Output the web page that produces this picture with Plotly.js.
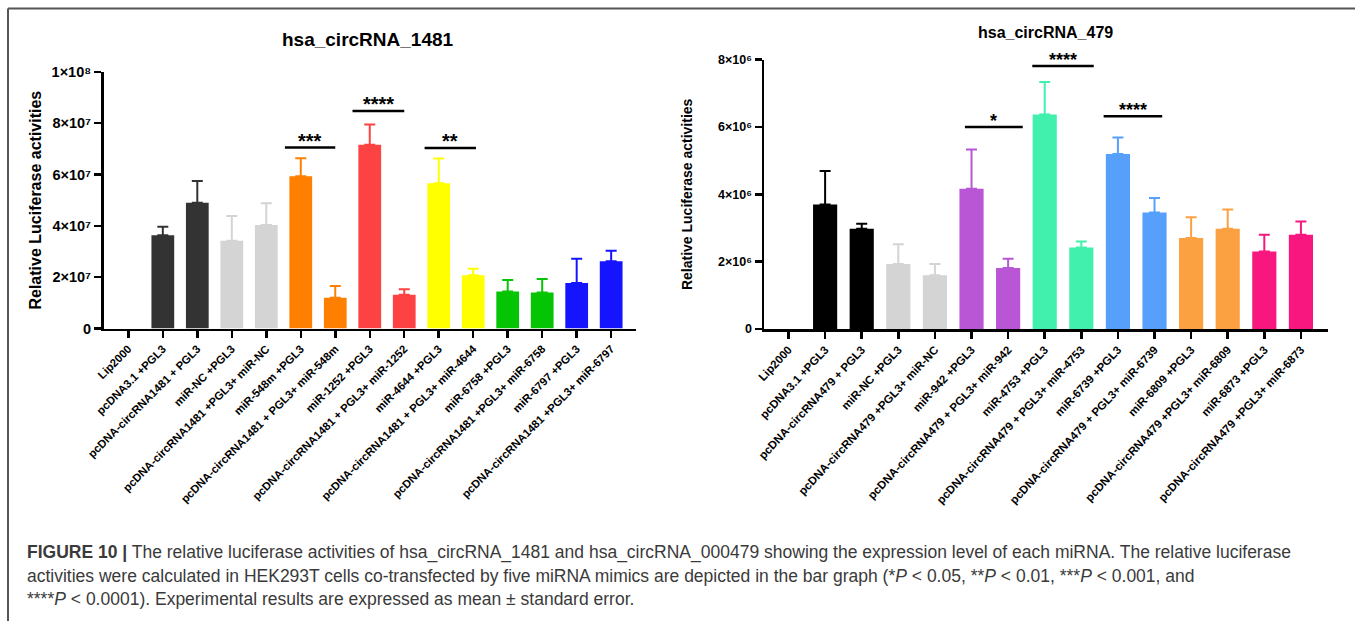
<!DOCTYPE html>
<html>
<head>
<meta charset="utf-8">
<script src="https://cdn.plot.ly/plotly-3.0.1.min.js"></script>
<style>html,body{margin:0;padding:0;background:#fff;}#chart{width:1355px;height:621px;}</style>
</head>
<body>
<div id="chart"></div>
<script>
// ---------------- DATA ----------------
const catsA = ["Lip2000", "pcDNA3.1 +PGL3", "pcDNA-circRNA1481 + PGL3", "miR-NC +PGL3",
  "pcDNA-circRNA1481 +PGL3+ miR-NC", "miR-548m +PGL3", "pcDNA-circRNA1481 + PGL3+ miR-548m",
  "miR-1252 +PGL3", "pcDNA-circRNA1481 + PGL3+ miR-1252", "miR-4644 +PGL3",
  "pcDNA-circRNA1481 + PGL3+ miR-4644", "miR-6758 +PGL3", "pcDNA-circRNA1481 +PGL3+ miR-6758",
  "miR-6797 +PGL3", "pcDNA-circRNA1481 +PGL3+ miR-6797"];
const meanA = [0, 3.63e7, 4.90e7, 3.42e7, 4.03e7, 5.93e7, 1.20e7, 7.16e7, 1.31e7, 5.66e7, 2.07e7, 1.44e7, 1.40e7, 1.77e7, 2.62e7];
const semA  = [null, 0.33e7, 0.85e7, 0.96e7, 0.85e7, 0.70e7, 0.46e7, 0.79e7, 0.22e7, 0.96e7, 0.26e7, 0.45e7, 0.53e7, 0.95e7, 0.41e7];
const colorsA = ["#333333", "#333333", "#333333", "#d4d4d4", "#d4d4d4", "#ff8000", "#ff8000",
  "#fc4242", "#fc4242", "#ffff00", "#ffff00", "#04c404", "#04c404", "#1414ff", "#1414ff"];
const yTickValsA = [0, 2e7, 4e7, 6e7, 8e7, 1e8];
const yTickTextA = ["0", "2×10⁷", "4×10⁷", "6×10⁷", "8×10⁷", "1×10⁸"];
const sigA_x0 = [4.54, 6.50, 8.59];
const sigA_x1 = [6.00, 8.00, 10.08];
const sigA_y  = [7.05e7, 8.47e7, 7.03e7];
const sigA_label = ["***", "****", "**"];

const catsB = ["Lip2000", "pcDNA3.1 +PGL3", "pcDNA-circRNA479 + PGL3", "miR-NC +PGL3",
  "pcDNA-circRNA479 +PGL3+ miR-NC", "miR-942 +PGL3", "pcDNA-circRNA479 + PGL3+ miR-942",
  "miR-4753 +PGL3", "pcDNA-circRNA479 + PGL3+ miR-4753", "miR-6739 +PGL3",
  "pcDNA-circRNA479 + PGL3+ miR-6739", "miR-6809 +PGL3", "pcDNA-circRNA479 +PGL3+ miR-6809",
  "miR-6873 +PGL3", "pcDNA-circRNA479 +PGL3+ miR-6873"];
const meanB = [0, 3.70e6, 2.98e6, 1.93e6, 1.60e6, 4.17e6, 1.81e6, 6.37e6, 2.42e6, 5.20e6, 3.46e6, 2.70e6, 2.98e6, 2.30e6, 2.80e6];
const semB  = [null, 0.99e6, 0.15e6, 0.59e6, 0.33e6, 1.16e6, 0.28e6, 0.97e6, 0.18e6, 0.49e6, 0.43e6, 0.62e6, 0.57e6, 0.50e6, 0.39e6];
const colorsB = ["#000000", "#000000", "#000000", "#d4d4d4", "#d4d4d4", "#b856d6", "#b856d6",
  "#42f0ae", "#42f0ae", "#56a0fc", "#56a0fc", "#fca142", "#fca142", "#f8177f", "#f8177f"];
const yTickValsB = [0, 2e6, 4e6, 6e6, 8e6];
const yTickTextB = ["0", "2×10⁶", "4×10⁶", "6×10⁶", "8×10⁶"];
const sigB_x0 = [4.82, 6.66, 8.61];
const sigB_x1 = [6.40, 8.34, 10.21];
const sigB_y  = [6.00e6, 7.81e6, 6.32e6];
const sigB_label = ["*", "****", "****"];

const titleA = "hsa_circRNA_1481";
const titleB = "hsa_circRNA_479";
const yTitle = "Relative Luciferase activities";
const captionLines = [
  "<b>FIGURE 10 |</b> The relative luciferase activities of hsa_circRNA_1481 and hsa_circRNA_000479 showing the expression level of each miRNA. The relative luciferase",
  "activities were calculated in HEK293T cells co-transfected by five miRNA mimics are depicted in the bar graph (*<i>P</i> &lt; 0.05, **<i>P</i> &lt; 0.01, ***<i>P</i> &lt; 0.001, and",
  "****<i>P</i> &lt; 0.0001). Experimental results are expressed as mean ± standard error."
];

// ---------------- BUILD ----------------
const W = 1355, H = 621;
const FONT = "Liberation Sans, Arial, sans-serif";
const traces = [];
function addBars(cats, means, sems, colors, xa, ya) {
  for (let i = 0; i < cats.length; i++) {
    traces.push({
      type: "bar", x: [cats[i]], y: [means[i]], xaxis: xa, yaxis: ya,
      width: 0.66, marker: {color: colors[i], line: {width: 0}},
      error_y: {type: "data", symmetric: false, array: [sems[i]], arrayminus: [0],
        visible: sems[i] !== null, color: colors[i], thickness: 2, width: 5.5},
      hoverinfo: "x+y", showlegend: false
    });
  }
}
addBars(catsA, meanA, semA, colorsA, "x", "y");
addBars(catsB, meanB, semB, colorsB, "x2", "y2");

const shapes = [];
const annotations = [];
function addSig(x0s, x1s, ys, labels, xr, yr, fs) {
  for (let i = 0; i < x0s.length; i++) {
    shapes.push({type: "line", xref: xr, yref: yr, x0: x0s[i], x1: x1s[i], y0: ys[i], y1: ys[i],
      line: {color: "#000", width: 2.5}});
    annotations.push({xref: xr, yref: yr, x: (x0s[i] + x1s[i]) / 2, y: ys[i], text: labels[i],
      showarrow: false, yanchor: "bottom", yshift: -6,
      font: {family: FONT, size: fs, color: "#000", weight: "bold"}});
  }
}
addSig(sigA_x0, sigA_x1, sigA_y, sigA_label, "x", "y", 20);
addSig(sigB_x0, sigB_x1, sigB_y, sigB_label, "x2", "y2", 18);

// figure frame
shapes.push({type: "line", xref: "paper", yref: "paper", x0: 8 / W, x1: 1, y0: 1 - 8.5 / H, y1: 1 - 8.5 / H, line: {color: "#555", width: 2}});
shapes.push({type: "line", xref: "paper", yref: "paper", x0: 8 / W, x1: 8 / W, y0: 0, y1: 1 - 8.5 / H, line: {color: "#555", width: 2}});

// chart titles
annotations.push({xref: "paper", yref: "paper", x: 368 / W, y: 1 - 39 / H, text: "<b>" + titleA + "</b>",
  showarrow: false, xanchor: "center", yanchor: "middle", font: {family: FONT, size: 19, color: "#000"}});
annotations.push({xref: "paper", yref: "paper", x: 1045 / W, y: 1 - 32 / H, text: "<b>" + titleB + "</b>",
  showarrow: false, xanchor: "center", yanchor: "middle", font: {family: FONT, size: 16, color: "#000"}});

// caption
const capY = [552, 576, 599];
for (let i = 0; i < captionLines.length; i++) {
  annotations.push({xref: "paper", yref: "paper", x: 25 / W, y: 1 - capY[i] / H, text: captionLines[i],
    showarrow: false, xanchor: "left", yanchor: "middle", align: "left",
    font: {family: FONT, size: 17.5, color: "#3a3a3a"}});
}

function xAxis(cats, dom, anchor, fs, ang) {
  return {domain: dom, anchor: anchor, type: "category", categoryorder: "array", categoryarray: cats,
    range: [-0.71, 14.73], showline: true, linecolor: "#000", linewidth: 2.5, ticks: "outside",
    ticklen: 7, tickwidth: 2.5, tickcolor: "#000", showgrid: false, zeroline: false,
    tickangle: ang, tickfont: {family: FONT, size: fs, color: "#000", weight: "bold"}, automargin: false, fixedrange: true};
}
function yAxis(dom, anchor, rng, tv, tt, fs, tfs, standoff) {
  return {domain: dom, anchor: anchor, range: rng, showline: true, linecolor: "#000", linewidth: 2.5,
    ticks: "outside", ticklen: 7, tickwidth: 2.5, tickcolor: "#000", showgrid: false, zeroline: false,
    tickmode: "array", tickvals: tv, ticktext: tt,
    tickfont: {family: FONT, size: tfs, color: "#000", weight: "bold"},
    title: {text: yTitle, font: {family: FONT, size: fs, color: "#000", weight: "bold"}, standoff: standoff},
    automargin: false, fixedrange: true};
}

const layout = {
  width: W, height: H, margin: {l: 0, r: 0, t: 0, b: 0}, paper_bgcolor: "#fff", plot_bgcolor: "rgba(0,0,0,0)",
  barmode: "overlay", showlegend: false, font: {family: FONT},
  xaxis: xAxis(catsA, [103.5 / W, 636 / W], "y", 11.3, -45),
  yaxis: yAxis([1 - 328.5 / H, 1 - 71.8 / H], "x", [0, 1e8], yTickValsA, yTickTextA, 16, 14.5, 6),
  xaxis2: xAxis(catsB, [764 / W, 1328 / W], "y2", 11.5, -47),
  yaxis2: yAxis([1 - 329 / H, 1 - 59.7 / H], "x2", [0, 8e6], yTickValsB, yTickTextB, 14, 12.5, 22),
  shapes: shapes, annotations: annotations
};
layout.xaxis2.range = [-0.67, 14.74];
layout.xaxis.range = [-0.72, 14.72];

Plotly.newPlot("chart", traces, layout, {displayModeBar: false, staticPlot: true});
</script>
</body>
</html>
